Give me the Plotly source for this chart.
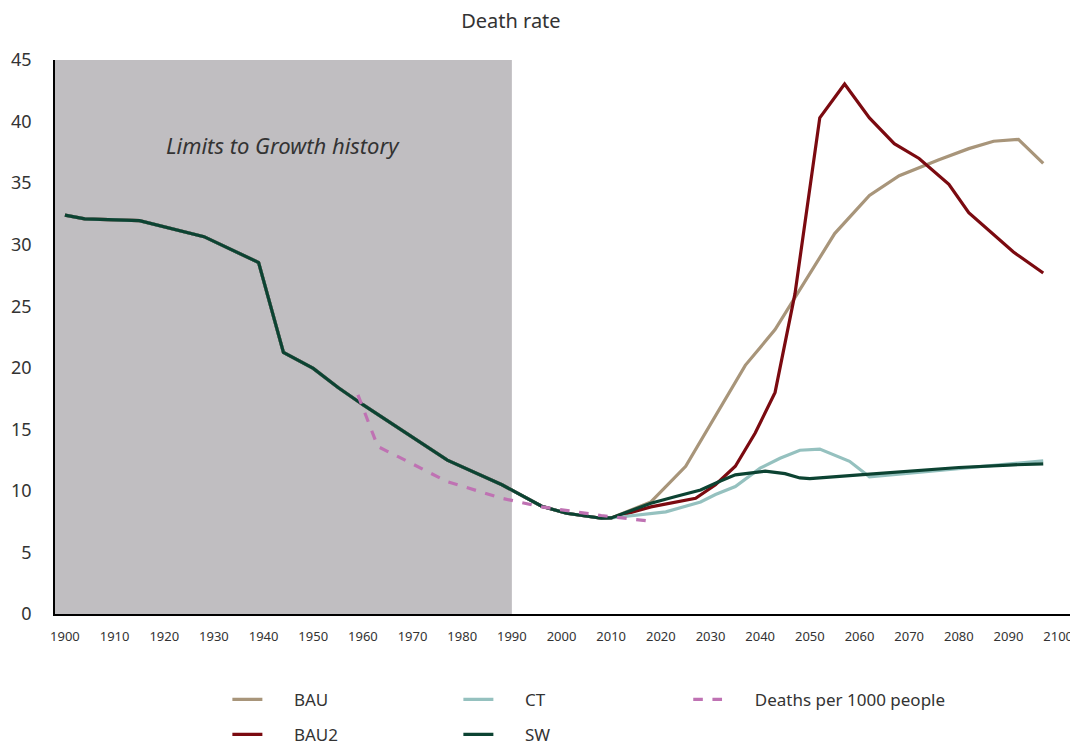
import plotly.graph_objects as go

# shared history (all scenarios identical up to ~2010)
hist_years = [1900, 1904, 1915, 1928, 1939, 1944, 1950, 1955, 1960, 1966, 1977, 1988, 1996, 2001, 2008, 2010]
hist_vals = [32.4, 32.1, 31.95, 30.65, 28.55, 21.25, 19.95, 18.4, 17.0, 15.4, 12.5, 10.5, 8.75, 8.18, 7.78, 7.8]

bau_years = [2018, 2025, 2033, 2037, 2043, 2055, 2062, 2068, 2076, 2082, 2087, 2092, 2097]
bau_vals = [9.1, 12.0, 17.4, 20.2, 23.1, 30.9, 34.0, 35.6, 36.9, 37.8, 38.4, 38.55, 36.6]

bau2_years = [2018, 2027, 2031, 2035, 2039, 2043, 2047, 2052, 2057, 2062, 2067, 2072, 2078, 2082, 2091, 2097]
bau2_vals = [8.7, 9.4, 10.5, 12.0, 14.7, 18.0, 26.0, 40.3, 43.05, 40.3, 38.2, 37.0, 34.9, 32.6, 29.4, 27.7]

ct_years = [2021, 2028, 2031, 2035, 2040, 2044, 2048, 2052, 2058, 2062, 2070, 2080, 2090, 2097]
ct_vals = [8.3, 9.1, 9.7, 10.35, 11.85, 12.65, 13.3, 13.4, 12.4, 11.15, 11.45, 11.8, 12.15, 12.45]

sw_years = [2018, 2023, 2028, 2032, 2035, 2041, 2045, 2048, 2050, 2060, 2070, 2080, 2090, 2097]
sw_vals = [9.0, 9.55, 10.07, 10.8, 11.3, 11.6, 11.4, 11.05, 11.0, 11.3, 11.6, 11.9, 12.1, 12.2]

deaths_years = [1959, 1963, 1967, 1977, 1988, 1996, 2008, 2017]
deaths_vals = [17.8, 13.6, 12.8, 10.75, 9.4, 8.7, 8.0, 7.58]

x_ticks = list(range(1900, 2101, 10))
y_ticks = list(range(0, 46, 5))

FONT = "Noto Sans"
PAD = "\u00a0" * 6

fig = go.Figure()

# shaded "history" block
fig.add_shape(type="rect", xref="x", yref="y", x0=1898, x1=1990, y0=0, y1=45,
              fillcolor="rgb(192,190,193)", line_width=0, layer="below")

series = [
    ("BAU", bau_years, bau_vals, "#a8957a", "legend"),
    ("BAU2", bau2_years, bau2_vals, "#7b0a10", "legend2"),
    ("CT", ct_years, ct_vals, "#95c1bf", "legend"),
    ("SW", sw_years, sw_vals, "#0c4332", "legend2"),
]
for name, yrs, vals, col, leg in series:
    fig.add_trace(go.Scatter(x=hist_years + yrs, y=hist_vals + vals, mode="lines",
                             name=PAD + name, line=dict(color=col, width=3.2), legend=leg))

fig.add_trace(go.Scatter(x=deaths_years, y=deaths_vals, mode="lines", name=PAD + "Deaths per 1000 people",
                         line=dict(color="#bf72b3", width=3.2, dash="dash"), legend="legend3"))

fig.add_annotation(x=1944, y=38.1, xref="x", yref="y", text="<i>Limits to Growth history</i>",
                   showarrow=False, font=dict(size=22, color="#333", family=FONT))

legend_common = dict(orientation="h", xanchor="left", yanchor="middle", entrywidth=186,
                     font=dict(size=17, color="#333", family=FONT), bgcolor="rgba(0,0,0,0)",
                     traceorder="normal", itemwidth=30)

# page body adds an 8px margin, so the figure is 8px smaller and margins shifted
fig.update_layout(
    width=1070, height=739,
    template="none",
    plot_bgcolor="white", paper_bgcolor="white",
    margin=dict(l=47, r=0, t=52, b=133, autoexpand=False),
    title=dict(text="Death rate", x=0.470, xref="container", xanchor="center",
               y=0.982, yanchor="middle", font=dict(size=20, color="#333", family=FONT)),
    legend=dict(x=0.1685, y=-0.155, **legend_common),
    legend2=dict(x=0.1685, y=-0.218, **legend_common),
    legend3=dict(x=0.619, y=-0.155, orientation="h", xanchor="left", yanchor="middle",
                 font=dict(size=17, color="#333", family=FONT), bgcolor="rgba(0,0,0,0)", itemwidth=30),
    font=dict(family=FONT),
)

fig.update_xaxes(range=[1898, 2104], tickvals=x_ticks, showgrid=False, zeroline=False,
                 showline=True, linecolor="black", linewidth=2, ticks="", automargin=False,
                 ticklabelstandoff=9, tickfont=dict(size=13, color="#333", family=FONT))
fig.update_yaxes(range=[0, 45], tickvals=y_ticks, showgrid=False, zeroline=False,
                 showline=True, linecolor="black", linewidth=1.5, ticks="", automargin=False,
                 ticklabelstandoff=18, tickfont=dict(size=18, color="#333", family=FONT))

fig.write_html("out.html")
